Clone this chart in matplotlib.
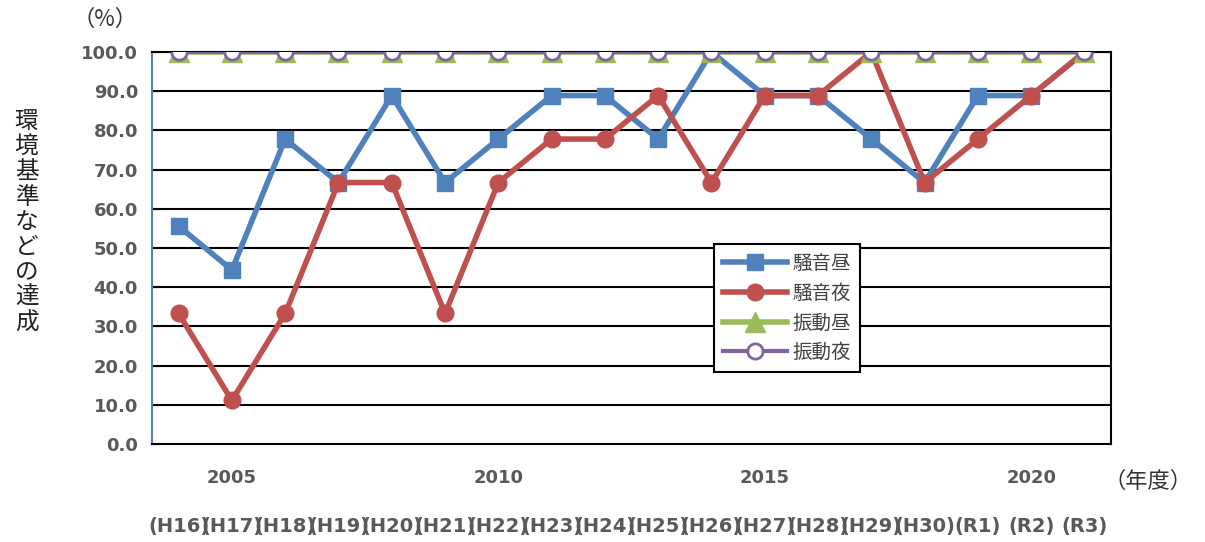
import matplotlib
matplotlib.use("Agg")
import matplotlib.pyplot as plt

plt.rcParams['font.family'] = ['Noto Sans CJK JP', 'DejaVu Sans']

years = list(range(2004, 2022))
era_labels = ["(H16)", "(H17)", "(H18)", "(H19)", "(H20)", "(H21)", "(H22)", "(H23)", "(H24)",
              "(H25)", "(H26)", "(H27)", "(H28)", "(H29)", "(H30)", "(R1)", "(R2)", "(R3)"]

noise_day = [55.6, 44.4, 77.8, 66.7, 88.9, 66.7, 77.8, 88.9, 88.9,
             77.8, 100.0, 88.9, 88.9, 77.8, 66.7, 88.9, 88.9, 100.0]
noise_night = [33.3, 11.1, 33.3, 66.7, 66.7, 33.3, 66.7, 77.8, 77.8,
               88.9, 66.7, 88.9, 88.9, 100.0, 66.7, 77.8, 88.9, 100.0]
vib_day = [100.0] * 18
vib_night = [100.0] * 18

fig = plt.figure(figsize=(12.05, 5.42), dpi=100)
ax = fig.add_axes([0.1261, 0.1808, 0.796, 0.7232])

# grid lines
for v in range(10, 101, 10):
    ax.axhline(v, color='black', linewidth=1.5, zorder=1)

ax.plot(years, noise_day, color='#4F81BD', linewidth=4, marker='s', markersize=12,
        label='騒音昼', zorder=3)
ax.plot(years, noise_night, color='#C0504D', linewidth=4, marker='o', markersize=12,
        label='騒音夜', zorder=4)
ax.plot(years, vib_day, color='#9BBB59', linewidth=4, marker='^', markersize=15,
        label='振動昼', zorder=5)
ax.plot(years, vib_night, color='#8064A2', linewidth=3, marker='o', markersize=11,
        markerfacecolor='white', markeredgecolor='#8064A2', markeredgewidth=2,
        label='振動夜', zorder=6)

ax.set_xlim(2003.5, 2021.5)
ax.set_ylim(0, 100)
ax.set_yticks(range(0, 101, 10))
ax.set_yticklabels([f"{v:.1f}" for v in range(0, 101, 10)], fontsize=13,
                   fontweight='bold', color='#595959', family=['DejaVu Sans'])
ax.set_xticks([2005, 2010, 2015, 2020])
ax.set_xticklabels(['2005', '2010', '2015', '2020'], fontsize=13, fontweight='bold',
                   color='#595959', family=['DejaVu Sans'])
ax.tick_params(axis='x', length=0, pad=18)
ax.tick_params(axis='y', length=5, direction='in', color='black', pad=10)

for s in ['top', 'right', 'bottom']:
    ax.spines[s].set_color('black')
    ax.spines[s].set_linewidth(1.5)
ax.spines['left'].set_color('#4F81BD')
ax.spines['left'].set_linewidth(1.5)

# era labels under the years (they overlap in the original too)
for x, lab in zip(years, era_labels):
    ax.text(x, -21, lab, ha='center', va='center', fontsize=14, fontweight='bold',
            color='#595959', family=['DejaVu Sans'], clip_on=False)

ax.text(2022.2, -9.5, '（年度）', ha='center', va='center', fontsize=16, color='#333333',
        clip_on=False)
fig.text(0.087, 0.965, '（%）', ha='center', va='center', fontsize=16, color='#333333')

ylabel = "環境基準などの達成"
fig.text(0.022, 0.59, "\n".join(ylabel), ha='center', va='center', fontsize=17,
         linespacing=1.12, color='#222222')

leg = ax.legend(loc='upper left', bbox_to_anchor=(0.586, 0.51), fontsize=14,
                frameon=True, fancybox=False, edgecolor='black', framealpha=1,
                handlelength=3.3, borderpad=0.45, labelspacing=0.45, handletextpad=0.3,
                borderaxespad=0)
leg.get_frame().set_linewidth(1.5)
for t in leg.get_texts():
    t.set_color('#404040')

fig.savefig('out.png', dpi=100)
